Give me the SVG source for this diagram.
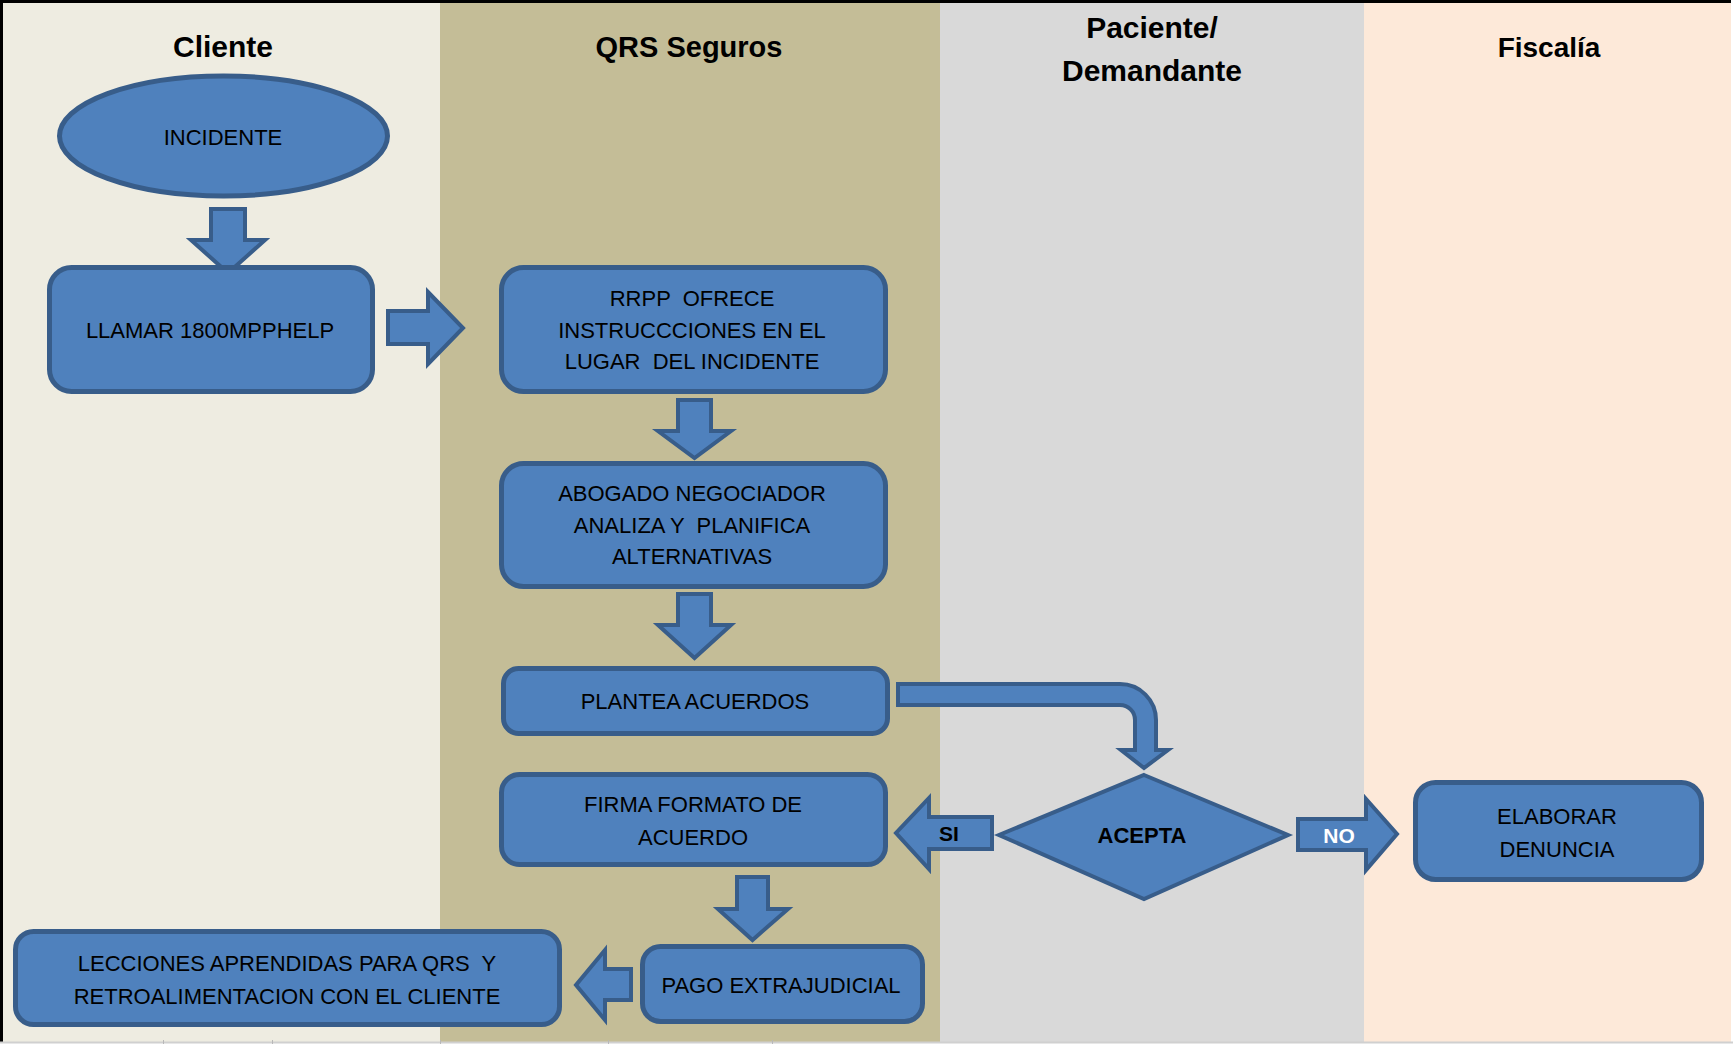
<svg xmlns="http://www.w3.org/2000/svg" width="1733" height="1044" viewBox="0 0 1733 1044">
  <style>
    .node { fill: #4F81BD; stroke: #385D8A; stroke-width: 5; }
    .arrow { fill: #4F81BD; stroke: #385D8A; stroke-width: 4; stroke-linejoin: miter; }
    .lbl { font-family: "Liberation Sans", Arial, sans-serif; font-size: 22px; fill: #000; text-anchor: middle; white-space: pre; }
    .bold { font-weight: bold; }
    .head { font-family: "Liberation Sans", Arial, sans-serif; font-size: 30px; font-weight: bold; fill: #000; text-anchor: middle; }
  </style>

  <!-- swimlanes -->
  <g id="lanes">
    <rect x="0" y="0" width="1733" height="1044" fill="#FFFFFF"/>
    <rect x="0" y="0" width="440" height="1042" fill="#EEECE1"/>
    <rect x="440" y="0" width="500" height="1042" fill="#C4BD97"/>
    <rect x="940" y="0" width="424" height="1042" fill="#D9D9D9"/>
    <rect x="1364" y="0" width="367" height="1042" fill="#FDE9D9"/>
    <line x1="0" y1="1.5" x2="1731" y2="1.5" stroke="#000" stroke-width="3"/>
    <line x1="1.5" y1="0" x2="1.5" y2="1042" stroke="#000" stroke-width="3"/>
    <line x1="0" y1="1042.5" x2="1733" y2="1042.5" stroke="#D0D0D0" stroke-width="2"/>
    <g stroke="#B8B8B8" stroke-width="1">
      <line x1="163.5" y1="1040" x2="163.5" y2="1044"/>
      <line x1="272.5" y1="1040" x2="272.5" y2="1044"/>
      <line x1="440.5" y1="1040" x2="440.5" y2="1044"/>
      <line x1="608.5" y1="1040" x2="608.5" y2="1044"/>
      <line x1="772.5" y1="1040" x2="772.5" y2="1044"/>
    </g>
    <text class="head" x="223" y="57">Cliente</text>
    <text class="head" x="689" y="57" style="font-size:29px">QRS Seguros</text>
    <text class="head" x="1152" y="38">Paciente/</text>
    <text class="head" x="1152" y="81">Demandante</text>
    <text class="head" x="1549" y="57" style="font-size:28px">Fiscalía</text>
  </g>

  <!-- connectors (block arrows) -->
  <g id="connectors">
    <path class="arrow" d="M211,209 H245 V240 H265 L228,273 L191,240 H211 Z"/>
    <path class="arrow" d="M388,311 H428 V292 L463,328 L428,364 V344 H388 Z"/>
    <path class="arrow" d="M678,400 H711 V431 H731 L694.5,458 L658,431 H678 Z"/>
    <path class="arrow" d="M678,594 H711 V625 H731 L694.5,658 L658,625 H678 Z"/>
    <path class="arrow" d="M898,684 H1120 A36,36 0 0 1 1156,720 V750 H1168 L1144,768 L1121,750 H1135 V720 A15,15 0 0 0 1120,705 H898 Z"/>
    <path class="arrow" d="M992,817 H929 V798 L896,833 L929,869 V849 H992 Z"/>
    <path class="arrow" d="M1298,819 H1366 V799 L1397,834 L1366,870 V850 H1298 Z"/>
    <path class="arrow" d="M737,877 H768 V909 H788 L752.5,940 L718,909 H737 Z"/>
    <path class="arrow" d="M631,969 H605 V950 L576,985 L605,1020 V1000 H631 Z"/>
    <text class="lbl bold" x="949" y="841" style="font-size:21px">SI</text>
    <text class="lbl bold" x="1339" y="843" style="font-size:21px;fill:#FFFFFF">NO</text>
  </g>

  <g id="incidente">
    <ellipse class="node" cx="223.5" cy="136" rx="164" ry="60"/>
    <text class="lbl" x="223" y="145">INCIDENTE</text>
  </g>

  <g id="llamar">
    <rect class="node" x="49.5" y="267.5" width="323" height="124" rx="22"/>
    <text class="lbl" x="210" y="338">LLAMAR 1800MPPHELP</text>
  </g>

  <g id="rrpp">
    <rect class="node" x="501.5" y="267.5" width="384" height="124" rx="22"/>
    <text class="lbl" x="692" y="306">RRPP  OFRECE</text>
    <text class="lbl" x="692" y="338">INSTRUCCCIONES EN EL</text>
    <text class="lbl" x="692" y="369">LUGAR  DEL INCIDENTE</text>
  </g>

  <g id="abogado">
    <rect class="node" x="501.5" y="463.5" width="384" height="123" rx="22"/>
    <text class="lbl" x="692" y="501">ABOGADO NEGOCIADOR</text>
    <text class="lbl" x="692" y="533">ANALIZA Y  PLANIFICA</text>
    <text class="lbl" x="692" y="564">ALTERNATIVAS</text>
  </g>

  <g id="plantea">
    <rect class="node" x="503.5" y="668.5" width="384" height="65" rx="15"/>
    <text class="lbl" x="695" y="709">PLANTEA ACUERDOS</text>
  </g>

  <g id="firma">
    <rect class="node" x="501.5" y="774.5" width="384" height="90" rx="18"/>
    <text class="lbl" x="693" y="812">FIRMA FORMATO DE</text>
    <text class="lbl" x="693" y="845">ACUERDO</text>
  </g>

  <g id="acepta">
    <polygon class="node" points="1144,775 1288,835 1144,899 999,835" style="stroke-width:4"/>
    <text class="lbl bold" x="1142" y="843">ACEPTA</text>
  </g>

  <g id="elaborar">
    <rect class="node" x="1415.5" y="782.5" width="286" height="97" rx="20"/>
    <text class="lbl" x="1557" y="824">ELABORAR</text>
    <text class="lbl" x="1557" y="857">DENUNCIA</text>
  </g>

  <g id="pago">
    <rect class="node" x="642.5" y="946.5" width="280" height="75" rx="18"/>
    <text class="lbl" x="781" y="993">PAGO EXTRAJUDICIAL</text>
  </g>

  <g id="lecciones">
    <rect class="node" x="15.5" y="931.5" width="544" height="93" rx="18"/>
    <text class="lbl" x="287" y="971">LECCIONES APRENDIDAS PARA QRS  Y</text>
    <text class="lbl" x="287" y="1004">RETROALIMENTACION CON EL CLIENTE</text>
  </g>
</svg>
